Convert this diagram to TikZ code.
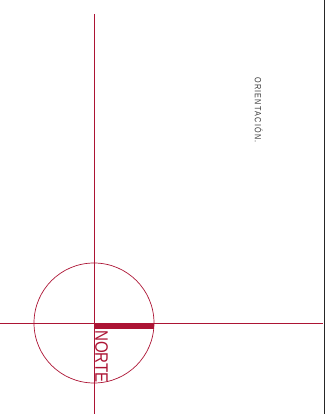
\documentclass[tikz,border=0pt]{standalone}
\usepackage{fontspec}
\usepackage{xcolor}
\usepackage{tikz}
\setmainfont{Liberation Sans}
\newfontfamily\orifont[LetterSpace=18]{Liberation Sans}
\definecolor{rojonorte}{RGB}{172,20,52}
\definecolor{grisori}{RGB}{55,55,55}

\begin{document}
\begin{tikzpicture}[x=1pt,y=1pt]
  \useasboundingbox (0,0) rectangle (331,414);
  % margin line on the right
  \draw[line width=1.6pt,black!85] (324.5,0) -- (324.5,414);
  % cross and circle
  \draw[rojonorte,line width=0.8pt] (0,91) -- (323,91);
  \draw[rojonorte,line width=0.8pt] (94,400) -- (94,0);
  \draw[rojonorte,line width=0.7pt] (94,91) circle (60);
  \fill[rojonorte] (94,91) rectangle (154,85);
  \node[rojonorte,rotate=-90,anchor=south west,inner sep=0pt,
        font=\fontsize{18}{18}\selectfont] (norte) at (95,84)
        {\scalebox{0.84}[1]{NORTE}};
  \node[grisori,rotate=-90,anchor=south west,inner sep=0pt,
        font=\orifont\fontsize{9}{9}\selectfont] (orientacion) at (254.5,337)
        {\scalebox{0.8}[1]{ORIENTACIÓN.}};
\end{tikzpicture}
\end{document}
